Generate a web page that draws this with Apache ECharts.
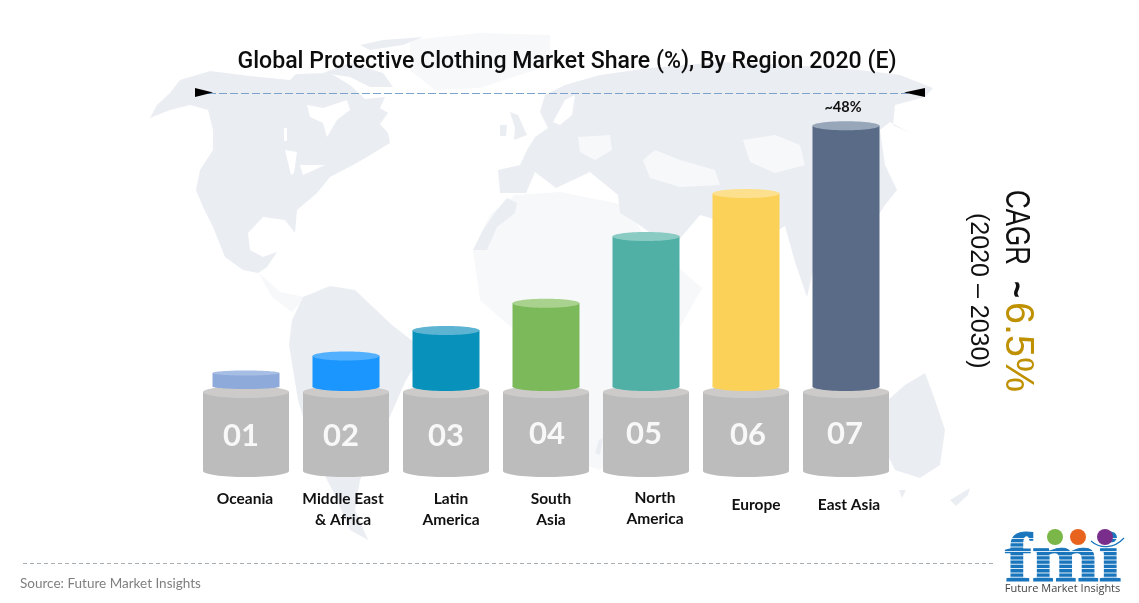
<!DOCTYPE html>
<html><head><meta charset="utf-8">
<style>html,body{margin:0;padding:0;background:#fff}#c{width:1139px;height:603px}</style>
<script src="https://cdn.jsdelivr.net/npm/echarts@6/dist/echarts.min.js"></script>
</head><body><div id="c"></div>
<script>
// ---- data ----
const categories = ['Oceania','Middle East\n& Africa','Latin\nAmerica','South\nAsia','North\nAmerica','Europe','East Asia'];
const shareValues = [2.5,5.6,10.3,15.3,27.6,35.5,48];
const stepLabels = ['01','02','03','04','05','06','07'];
const valueLabels = ['','','','','','','~48%'];

// ---- styles ----
const bodyColors = ['#8eaadb','#1a96fe','#0892bb','#7cb95b','#50b0a6','#fcd158','#5a6b88'];
const capColors  = ['#a6bde4','#52b0fe','#5cb3d2','#a9d28f','#8accc4','#fde08e','#98a6ba'];
// hand placement of the texts relative to their column, as in the original
const nameDx = [-1,-3,5,5,9,10,3];
const nameY  = [499,509.5,509.5,509.5,508.5,505,505];
const stepDx = [-5,-5,0,1,-2,2,-1];
const stepY  = [435.5,435.5,435.5,433.5,433.5,434.5,433.5];

const MAP = '#eaedf2', FAINT = '#f7f8fa';
const mapShapes = [
 // Africa, very pale
 [FAINT,[[473,250],[490,215],[515,195],[560,192],[625,205],[650,245],[672,262],[702,288],[670,345],[640,420],[600,470],[570,460],[545,400],[520,335],[480,300]]],
 // Greenland, very pale
 [FAINT,[[410,40],[480,33],[550,35],[550,65],[480,88],[435,90],[410,70]]],
 // North America
 [MAP,[[150,118],[157,105],[170,93],[180,80],[210,71],[250,76],[290,80],[296,74],[330,73],[350,85],[365,99],[385,97],[380,108],[388,113],[380,124],[388,133],[390,143],[367,157],[353,165],[330,177],[317,193],[297,210],[295,233],[285,220],[263,217],[248,233],[250,250],[263,257],[277,252],[267,267],[258,273],[243,270],[225,257],[213,227],[203,207],[196,190],[200,170],[213,150],[213,130],[208,110],[190,105],[170,110]]],
 [MAP,[[360,45],[383,40],[423,37],[403,45],[370,50]]],
 [MAP,[[323,73],[350,63],[383,73],[393,87],[370,87],[350,77]]],
 ['#ffffff',[[307,105],[323,108],[347,100],[350,110],[337,120],[327,137],[323,123],[310,117]]],
 ['#ffffff',[[285,150],[297,152],[294,173],[291,175]]],
 ['#ffffff',[[300,165],[325,165],[303,175]]],
 ['#ffffff',[[284,128],[287,128],[287,141],[284,141]]],
 // Central America
 [FAINT,[[258,272],[280,292],[305,297],[292,312],[272,297]]],
 // South America
 [MAP,[[303,297],[330,286],[355,290],[392,325],[424,350],[405,382],[395,405],[375,450],[360,480],[355,510],[368,540],[350,530],[335,495],[327,480],[310,440],[298,400],[289,345],[292,320]]],
 // Morocco strip of Africa
 [MAP,[[473,250],[483,230],[497,210],[507,198],[517,203],[515,213],[497,227],[487,250]]],
 // Eurasia
 [MAP,[[498,170],[520,165],[527,150],[535,137],[548,128],[540,112],[545,95],[565,85],[600,75],[650,68],[720,62],[790,65],[860,70],[900,75],[933,88],[925,97],[895,105],[893,125],[910,133],[890,122],[880,130],[885,165],[897,190],[885,205],[862,240],[838,232],[815,262],[807,297],[795,262],[785,226],[765,238],[735,225],[700,215],[672,248],[635,222],[620,213],[618,195],[590,172],[556,188],[535,172],[526,193],[500,193]]],
 ['#ffffff',[[565,100],[575,95],[572,115],[560,125],[553,122]]],
 // UK, Ireland
 [MAP,[[510,112],[518,115],[527,135],[514,140],[515,128]]],
 [MAP,[[500,125],[507,125],[506,136],[500,136]]],
 // lighter interior
 ['#f7f8fa',[[743,140],[775,135],[800,145],[805,165],[775,173],[750,162]]],
 ['#f7f8fa',[[643,160],[655,150],[680,160],[715,170],[720,185],[680,187],[650,178]]],
 ['#f7f8fa',[[578,137],[610,135],[612,150],[595,160],[580,152]]],
 // Madagascar, Australia, NZ
 [MAP,[[599,440],[603,438],[600,455],[595,453]]],
 [MAP,[[888,400],[905,385],[925,373],[935,400],[945,430],[940,465],[920,478],[895,470],[885,450]]],
 [MAP,[[899,490],[906,490],[902,498]]],
 [MAP,[[950,500],[970,488],[968,495],[956,506]]]
];

const mapEls = mapShapes.map(s => ({type:'polygon', z:-10, silent:true, shape:{points:s[1]}, style:{fill:s[0]}}));

// logo stripes
const logoStripes = [];
for (let y = 538; y <= 578; y += 4.3) logoStripes.push({type:'rect', z:3, silent:true, shape:{x:1003,y:y,width:120,height:1}, style:{fill:'rgba(255,255,255,.85)'}});

const rotText = (text,x,y,font,fill,sy) => ({type:'text', z:3, silent:true, x:x, y:y, rotation:-Math.PI/2, scaleY:sy,
  style:{text:text, font:font, fill:fill, align:'left', verticalAlign:'middle'}});

const chart = echarts.init(document.getElementById('c'), null, {renderer:'canvas'});
chart.setOption({
  animation:false,
  backgroundColor:'#ffffff',
  title:{text:'Global Protective Clothing Market Share (%), By Region 2020 (E)', left:562, top:57, textAlign:'center', textVerticalAlign:'middle',
    textStyle:{fontFamily:'Roboto', fontWeight:500, fontSize:23.1, color:'#0d0d0d'}},
  grid:{left:196, width:700, top:125.7, height:260.8},
  xAxis:{type:'category', data:categories, show:false},
  yAxis:{type:'value', min:0, max:48, show:false},
  tooltip:{show:false},
  graphic:{elements:[
    ...mapEls,
    {type:'line', z:3, silent:true, shape:{x1:208,y1:93.5,x2:908,y2:93.5}, style:{stroke:'#7ba3cc',lineWidth:1,lineDash:[8,3]}},
    {type:'polygon', z:3, silent:true, shape:{points:[[195,88],[213,92.5],[195,97]]}, style:{fill:'#000'}},
    {type:'polygon', z:3, silent:true, shape:{points:[[925,88],[904,92.5],[925,97]]}, style:{fill:'#000'}},
    rotText('CAGR',1016,190,'26px "Liberation Sans"','#111',1.33),
    rotText('~',1015,281,'bold 29px "Liberation Sans"','#111',1.2),
    rotText('6.5%',1017,302,'39.5px "Liberation Sans"','#bf9000',1.05),
    rotText('(2020 – 2030)',978,213,'25px "Liberation Sans"','#111',1),
    {type:'line', z:1, silent:true, shape:{x1:23,y1:563.5,x2:996,y2:563.5}, style:{stroke:'#a8afb5',lineWidth:1,lineDash:[4,3]}},
    {type:'text', z:3, silent:true, x:20, y:584, style:{text:'Source: Future Market Insights', font:'13.5px Lato', fill:'#7f7f7f', align:'left', verticalAlign:'middle'}},
    // logo
    {type:'text', z:2, silent:true, x:1005, y:598, scaleX:1.15, style:{text:'fmi', font:'bold 70px "Liberation Serif"', fill:'#1a76bc', stroke:'#1a76bc', lineWidth:1.2, align:'left', verticalAlign:'bottom'}},
    ...logoStripes,
    {type:'circle', z:4, silent:true, shape:{cx:1055,cy:537,r:8}, style:{fill:'#7ab648'}},
    {type:'circle', z:4, silent:true, shape:{cx:1078,cy:537,r:8}, style:{fill:'#e8641e'}},
    {type:'circle', z:4, silent:true, shape:{cx:1105,cy:537,r:8}, style:{fill:'#7a2e8c'}},
    {type:'bezierCurve', z:4, silent:true, shape:{x1:1091,y1:541,cpx1:1100,cpy1:549,x2:1124,y2:538,cpx2:1114,cpy2:549}, style:{stroke:'#1a76bc',lineWidth:1.2,fill:'none'}},
    {type:'text', z:4, silent:true, x:1062.5, y:589, style:{text:'Future Market Insights', font:'11px "Open Sans"', fill:'#444', align:'center', verticalAlign:'middle'}}
  ]},
  series:[
    { // pedestals + number + region name
      type:'custom', z:2, silent:true,
      data:categories.map((c,i)=>[i,0]),
      renderItem(params,api){
        const i = api.value(0), p = api.coord([i,0]), w = api.size([1,0])[0]*0.86, cx = p[0], y0 = p[1];
        return {type:'group', children:[
          {type:'ellipse', shape:{cx,cy:y0+84.5,rx:w/2,ry:6}, style:{fill:'#bcbcbc'}},
          {type:'rect', shape:{x:cx-w/2,y:y0+5.5,width:w,height:79}, style:{fill:'#bcbcbc'}},
          {type:'ellipse', shape:{cx,cy:y0+5.5,rx:w/2,ry:6}, style:{fill:'#cdcbc9'}},
          {type:'text', style:{text:stepLabels[i], x:cx+stepDx[i], y:stepY[i], font:'bold 31px Lato', fill:'#f8f8f8', align:'center', verticalAlign:'middle'}},
          {type:'text', style:{text:categories[i], x:cx+nameDx[i], y:nameY[i], font:'bold 15.5px Lato', lineHeight:21, fill:'#111', align:'center', verticalAlign:'middle'}}
        ]};
      }
    },
    { // cylinders
      type:'custom', z:3, silent:true,
      data:shareValues.map((v,i)=>[i,v]),
      renderItem(params,api){
        const i = api.value(0), top = api.coord([i,api.value(1)]), base = api.coord([i,0]), w = api.size([1,0])[0]*0.67, cx = base[0];
        const ry = api.value(1) < 5 ? 2.5 : 4.5;
        const kids = [
          {type:'ellipse', shape:{cx,cy:base[1],rx:w/2,ry}, style:{fill:bodyColors[i]}},
          {type:'rect', shape:{x:cx-w/2,y:top[1],width:w,height:base[1]-top[1]}, style:{fill:bodyColors[i]}},
          {type:'ellipse', shape:{cx,cy:top[1],rx:w/2,ry}, style:{fill:capColors[i]}}
        ];
        if (valueLabels[i]) kids.push({type:'text', style:{text:valueLabels[i], x:cx-3, y:top[1]-18.5, font:'bold 14.5px Lato', fill:'#111', align:'center', verticalAlign:'middle'}});
        return {type:'group', children:kids};
      }
    }
  ]
});
</script></body></html>
